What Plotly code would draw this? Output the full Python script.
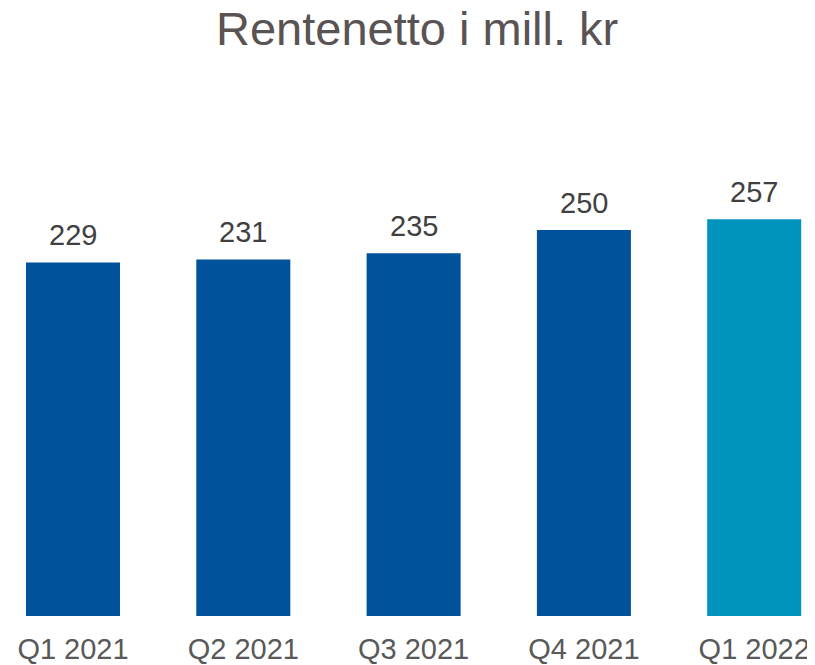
import plotly.graph_objects as go

categories = ["Q1 2021", "Q2 2021", "Q3 2021", "Q4 2021", "Q1 2022"]
values = [229, 231, 235, 250, 257]
bar_colors = ["#00529B", "#00529B", "#00529B", "#00529B", "#0093BE"]

FONT = "Liberation Sans, Arial, sans-serif"

fig = go.Figure()
fig.add_trace(go.Bar(
    x=categories, y=values, marker=dict(color=bar_colors, line=dict(width=0)),
    width=0.552, hoverinfo="skip",
))

for c, v in zip(categories, values):
    fig.add_annotation(
        x=c, y=v, text=str(v), showarrow=False, yanchor="bottom", yshift=9,
        font=dict(family=FONT, size=29, color="#404040"),
    )

fig.update_layout(
    width=807, height=657,
    margin=dict(l=0, r=0, t=97, b=45),
    paper_bgcolor="white", plot_bgcolor="white",
    showlegend=False,
    font=dict(family=FONT),
    title=dict(
        text="Rentenetto i mill. kr",
        x=0.507, xanchor="center", y=1 - 21 / 657, yanchor="middle", yref="container",
        font=dict(family=FONT, size=47, color="#595353"),
    ),
    xaxis=dict(
        type="category", range=[-0.3817, 4.357], showgrid=False, zeroline=False,
        showline=False, ticks="outside", ticklen=7, tickcolor="rgba(0,0,0,0)",
        tickfont=dict(family=FONT, size=29, color="#595959"),
    ),
    yaxis=dict(range=[0, 331], visible=False, showgrid=False, zeroline=False),
)

fig.write_html("out.html")
